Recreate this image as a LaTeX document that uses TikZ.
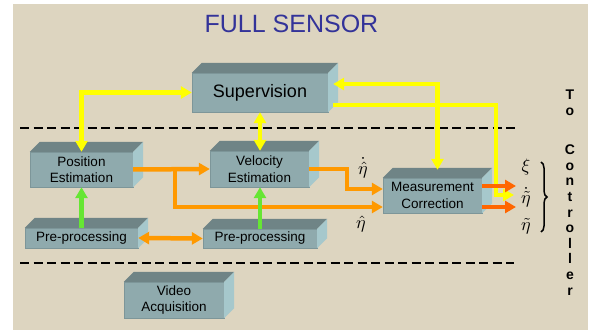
\RequirePackage{fix-cm}
\documentclass[tikz,border=0pt]{standalone}
\usepackage{fontspec}
\usepackage{graphicx}
\setmainfont{Liberation Sans}
\usetikzlibrary{arrows.meta,decorations.pathreplacing}
\definecolor{paper}{RGB}{221,213,192}
\definecolor{titleblue}{RGB}{51,51,153}
\definecolor{boxfront}{RGB}{143,170,173}
\definecolor{boxtop}{RGB}{111,132,134}
\definecolor{boxside}{RGB}{166,200,204}
\definecolor{boxedge}{RGB}{125,150,153}
\definecolor{linkyellow}{RGB}{255,255,0}
\definecolor{linkorange}{RGB}{255,153,0}
\definecolor{linkred}{RGB}{255,102,0}
\definecolor{linkgreen}{RGB}{102,230,51}
\newcommand\sig[1]{\scalebox{1.8}{$#1$}}

\begin{document}
\begin{tikzpicture}[
    x=1pt, y=-1pt,
    >={Triangle[length=11pt,width=12pt]},
    block/.style={fill=boxfront, draw=boxedge, line width=0.4pt, inner sep=0pt,
        align=center, font=\fontsize{13.5}{16.5}\selectfont},
    yellow link/.style={draw=linkyellow, line width=4.5pt},
    orange link/.style={draw=linkorange, line width=4.5pt},
    green link/.style={draw=linkgreen, line width=4.5pt},
    output link/.style={draw=linkred, line width=4.5pt},
    separator/.style={draw, line width=2pt, dash pattern=on 9pt off 4.5pt},
    signal/.style={inner sep=0pt},
    vertical text/.style={align=center, font=\fontsize{14}{15.6}\selectfont\bfseries},
    ]
\useasboundingbox (0,0) rectangle (597,331);
\fill[paper] (13,4) rectangle (588,330);
% separators
\draw[separator] (20,128) -- (517,128);
\draw[separator] (20,263) -- (514,263);
\node[text=titleblue, font=\fontsize{25}{28}\selectfont] (title) at (291.5,24) {FULL SENSOR};
% blocks
\node[block, minimum width=136, minimum height=39, font=\fontsize{18}{20}\selectfont] (sup) at (260,92.5) {Supervision};
\node[block, minimum width=103, minimum height=35] (pos) at (81.5,169.5) {Position\\Estimation};
\node[block, minimum width=99, minimum height=36] (vel) at (259.5,169) {Velocity\\Estimation};
\node[block, minimum width=113, minimum height=20] (preL) at (81.5,238) {Pre-processing};
\node[block, minimum width=114, minimum height=19] (preR) at (260,238.5) {Pre-processing};
\node[block, minimum width=99, minimum height=35] (mc) at (432.5,195.5) {Measurement\\Correction};
\node[block, minimum width=100, minimum height=36] (video) at (174,300) {Video\\Acquisition};
\foreach \b in {sup,pos,vel,preL,preR,mc,video}{
    \fill[boxtop] (\b.north west) -- ++(10,-10) -- ([shift={(10,-10)}]\b.north east) -- (\b.north east) -- cycle;
    \fill[boxside] (\b.north east) -- ++(10,-10) -- ([shift={(10,-10)}]\b.south east) -- (\b.south east) -- cycle;
}
% yellow links
\coordinate (supR1) at ([shift={(5,-8.5)}]sup.east);
\coordinate (supR2) at ([shift={(5,12.5)}]sup.east);
\coordinate (mcTop) at ([shift={(5,-8)}]mc.north);
\coordinate (yturn) at (496,195);
\coordinate (yend) at (514,195);
\draw[yellow link, <->] (pos.north) |- (sup.west);
\draw[yellow link, <->] (sup.south) -- (sup.south |- vel.north);
\draw[yellow link, <->] (supR1) -| (mcTop);
\draw[yellow link, ->] (supR2) -| (yturn) -- (yend);
% orange links
\draw[orange link, ->] (pos.east) -- (vel.west);
\draw[orange link, ->] ([xshift=42pt]pos.east) |- ([shift={(0,11.5)}]mc.west);
\draw[orange link, ->] (vel.east) -- ++(38,0) |- ([shift={(0,-6.5)}]mc.west);
\draw[orange link, <->] (preL.east) -- (preR.west);
% green links
\draw[green link, ->] (preL.north) -- (pos.south);
\draw[green link, ->] (preR.north) -- (preR.north |- vel.south);
% outputs
\coordinate (xiend) at (516,186);
\coordinate (etaend) at (516,207);
\draw[output link, ->] ([shift={(0,-9.5)}]mc.east) -- (xiend);
\draw[output link, ->] ([shift={(0,11.5)}]mc.east) -- (etaend);
% signal labels
\node[signal] (etadh) at (363,168) {\sig{\dot{\hat\eta}}};
\node[signal] (etah) at (361,224) {\sig{\hat\eta}};
\node[signal] (xi) at (526,167) {\sig{\xi}};
\node[signal] (etadt) at (526,197) {\sig{\dot{\tilde\eta}}};
\node[signal] (etat) at (526,226) {\sig{\tilde\eta}};
\coordinate (bracetop) at (541,162);
\coordinate (bracebot) at (541,232);
\draw[decorate, decoration={brace, amplitude=6pt}, line width=1.5pt] (bracetop) -- (bracebot);
% to controller
\node[vertical text] (to) at (570,102.5) {T\\o};
\node[vertical text] (ctrl) at (570,220) {C\\o\\n\\t\\r\\o\\l\\l\\e\\r};
\end{tikzpicture}
\end{document}
